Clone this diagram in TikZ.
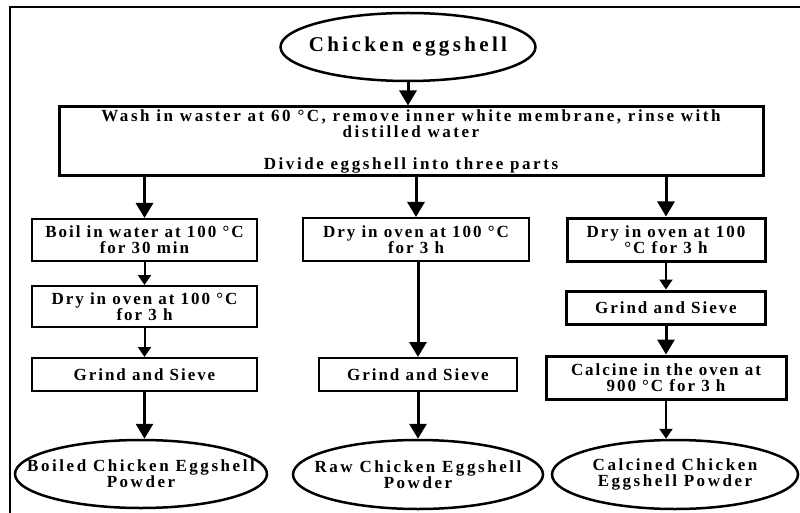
\documentclass[tikz,border=0pt]{standalone}
\usepackage{fontspec}
\setmainfont{Liberation Serif}
\newfontfamily\boxfont{Liberation Serif}[LetterSpace=11.5]
\newfontfamily\widefont{Liberation Serif}[LetterSpace=15]
\newfontfamily\titlefont{Liberation Serif}[LetterSpace=16]
\usetikzlibrary{arrows.meta,shapes.geometric}
\tikzset{
  boxthin/.style={draw,line width=2pt,rectangle,inner sep=0pt,align=center,font=\boxfont\fontsize{17}{16}\selectfont\bfseries},
  boxthick/.style={boxthin,line width=3pt},
  bigbox/.style={boxthick,font=\widefont\fontsize{17}{16}\selectfont\bfseries},
  oval/.style={draw,line width=2.5pt,ellipse,inner sep=0pt},
  ovaltext/.style={inner sep=0pt,align=center,font=\widefont\fontsize{17}{16}\selectfont\bfseries},
  titletext/.style={inner sep=0pt,align=center,font=\titlefont\fontsize{21}{22}\selectfont\bfseries},
  thickarrow/.style={line width=3pt,-{Triangle[width=17pt,length=15pt]}},
  thinarrow/.style={line width=2pt,-{Triangle[width=13pt,length=10pt]}},
  frameline/.style={line width=2pt}
}
\begin{document}
\begin{tikzpicture}[x=1pt,y=-1pt]
\useasboundingbox (0,0) rectangle (800,513);
\draw[frameline] (10,513) -- (10,7) -- (800,7);

\node[oval,minimum width=255pt,minimum height=68pt] (E0) at (408,47) {};
\node[titletext] (E0t) at (E0) {Chicken eggshell};
\node[bigbox,minimum width=704pt,minimum height=69pt] (B0) at (411,141.5)
  {Wash in waster at 60 °C, remove inner white membrane, rinse with\\distilled water\\[16pt]Divide eggshell into three parts};

\node[boxthin,minimum width=225pt,minimum height=42pt] (L1) at (144.5,240) {Boil in water at 100 °C\\for 30 min};
\node[boxthin,minimum width=225pt,minimum height=41pt] (L2) at (144.5,306.5) {Dry in oven at 100 °C\\for 3 h};
\node[boxthin,minimum width=225pt,minimum height=33pt] (L3) at (144.5,374.5) {Grind and Sieve};
\node[oval,minimum width=252pt,minimum height=68pt] (LE) at (141,474) {};
\node[ovaltext] (LEt) at (LE) {Boiled Chicken Eggshell\\Powder};

\node[boxthin,minimum width=226pt,minimum height=43pt] (M1) at (416,239.5) {Dry in oven at 100 °C\\for 3 h};
\node[boxthin,minimum width=198pt,minimum height=33pt] (M2) at (418,374.5) {Grind and Sieve};
\node[oval,minimum width=250pt,minimum height=69pt] (ME) at (418,474.5) {};
\node[ovaltext] (MEt) at (ME) {Raw Chicken Eggshell\\Powder};

\node[boxthick,minimum width=198pt,minimum height=43pt] (R1) at (666,239.5) {Dry in oven at 100\\°C for 3 h};
\node[boxthick,minimum width=199pt,minimum height=33pt] (R2) at (666,307.5) {Grind and Sieve};
\node[boxthick,minimum width=240pt,minimum height=43pt] (R3) at (666,377.5) {Calcine in the oven at\\900 °C for 3 h};
\node[oval,minimum width=246pt,minimum height=69pt] (RE) at (675,474.5) {};
\node[ovaltext] (REt) at (RE) {Calcined Chicken\\Eggshell Powder};

\draw[thickarrow] (E0.south) -- (E0.south |- B0.north);
\draw[thickarrow] (L1.north |- B0.south) -- (L1.north);
\draw[thickarrow] (M1.north |- B0.south) -- (M1.north);
\draw[thickarrow] (R1.north |- B0.south) -- (R1.north);

\draw[thinarrow] (L1.south) -- (L2.north);
\draw[thinarrow] (L2.south) -- (L3.north);
\draw[thickarrow] (L3.south) -- (L3.south |- LE.north);

\draw[thickarrow] (M2.north |- M1.south) -- (M2.north);
\draw[thickarrow] (M2.south) -- (M2.south |- ME.north);

\draw[thinarrow] (R1.south) -- (R2.north);
\draw[thickarrow] (R2.south) -- (R3.north);
\draw[thinarrow] (R3.south) -- (R3.south |- RE.north);
\end{tikzpicture}
\end{document}
